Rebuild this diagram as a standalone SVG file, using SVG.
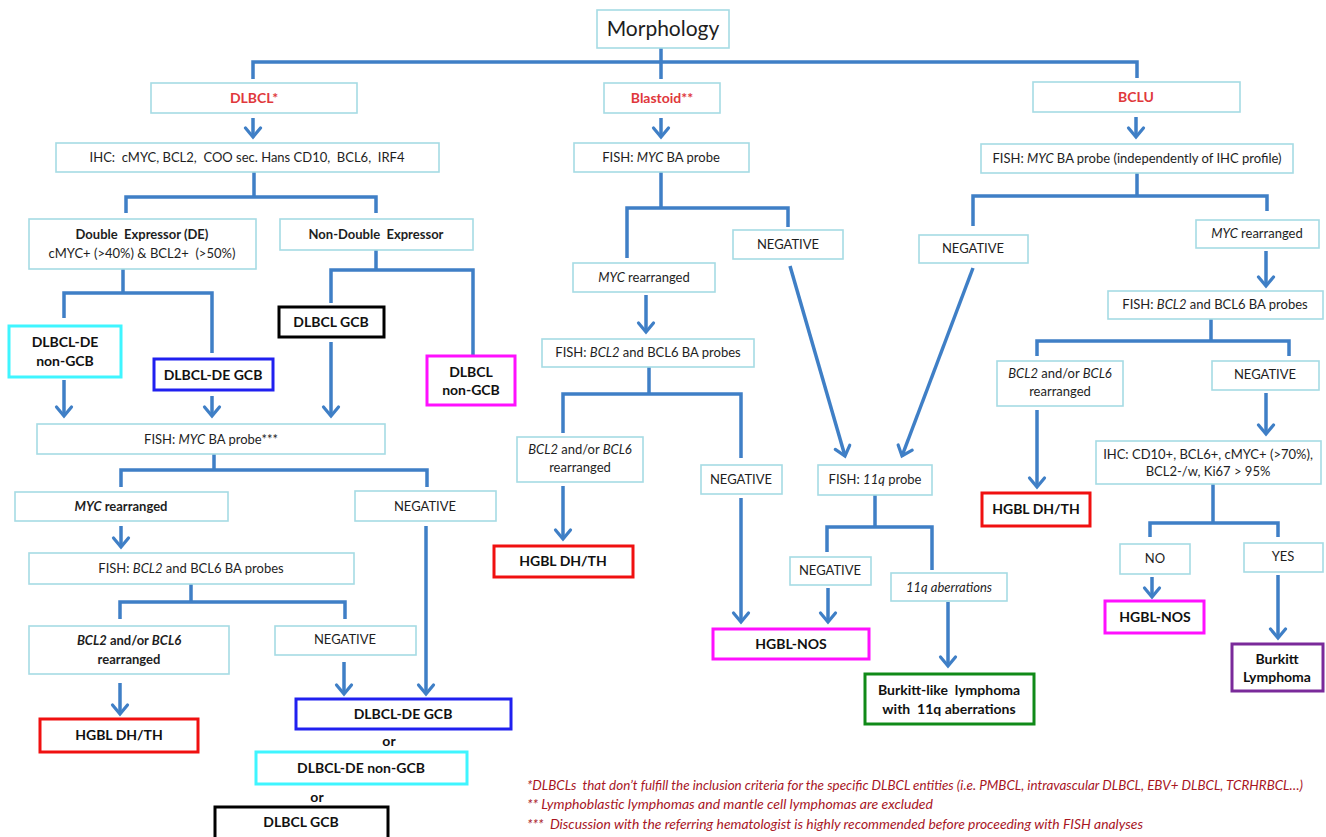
<svg xmlns="http://www.w3.org/2000/svg" width="1326" height="837" viewBox="0 0 1326 837">
<style>
.box{fill:#fff;stroke:#a6dbe4;stroke-width:1.6}
.t{font-family:Lato,"Liberation Sans",sans-serif;font-size:13px;fill:#1e1e1e;text-anchor:middle}
.b{font-weight:bold}
.i{font-style:italic}
.red{fill:#e0383c;font-weight:bold;font-size:14px}
.lf{fill:#fff;stroke-width:3}
.lt{font-family:Lato,"Liberation Sans",sans-serif;font-size:14px;font-weight:bold;fill:#111;text-anchor:middle}
.c{fill:none;stroke:#3f7fc6;stroke-width:3.5;stroke-linejoin:miter}
.a{fill:none;stroke:#3f7fc6;stroke-width:3.5;marker-end:url(#ah)}
.fn{font-family:Lato,"Liberation Sans",sans-serif;font-size:12.5px;font-style:italic;fill:#a8161f}
.pre{white-space:pre}
</style>
<defs>
<marker id="ah" markerUnits="userSpaceOnUse" markerWidth="24" markerHeight="24" viewBox="-12 -12 24 24" refX="0" refY="0" orient="auto" overflow="visible">
<path d="M-9,-7.5 L0,0 L-9,7.5" fill="none" stroke="#3f7fc6" stroke-width="3.2" stroke-linecap="round" stroke-linejoin="miter"/>
</marker>
</defs>
<rect width="1326" height="837" fill="#fff"/>

<g id="connectors">
<path class="c" d="M661,48 V79 M253,79 V62 H1137 V78"/>
<path class="a" d="M253,118 V137"/>
<path class="a" d="M661,118 V137"/>
<path class="a" d="M1136,117 V137"/>
<path class="c" d="M254,172 V197 M126,213 V197 H376 V213"/>
<path class="c" d="M123,269 V293 M64,318 V293 H212 V353"/>
<path class="c" d="M376,250 V270 M331,303 V270 H473 V355"/>
<path class="a" d="M64,380 V416"/>
<path class="a" d="M212,396 V416"/>
<path class="a" d="M331,342 V416"/>
<path class="c" d="M214,454 V470 M121,487 V470 H427 V487"/>
<path class="a" d="M121,526 V547"/>
<path class="c" d="M191,584 V602 M120,619 V602 H345 V619"/>
<path class="a" d="M120,683 V714"/>
<path class="a" d="M344,662 V694"/>
<path class="a" d="M426,526 V694"/>
<path class="c" d="M661,172 V208 M627,258 V208 H788 V227"/>
<path class="a" d="M646,295 V332"/>
<path class="c" d="M649,367 V394 M563,433 V394 H741 V458"/>
<path class="a" d="M563,486 V539"/>
<path class="a" d="M741,498 V622"/>
<path class="a" d="M790,266 L845,456"/>
<path class="a" d="M973,268 L902,456"/>
<path class="c" d="M875,495 V527 M827,552 V527 H932 V570"/>
<path class="a" d="M828,588 V622"/>
<path class="a" d="M948,602 V666"/>
<path class="c" d="M1137,173 V196 M973,226 V196 H1267 V211"/>
<path class="a" d="M1266,251 V286"/>
<path class="c" d="M1211,319 V341 M1037,356 V341 H1289 V356"/>
<path class="a" d="M1037,410 V487"/>
<path class="a" d="M1266,393 V434"/>
<path class="c" d="M1213,484 V523 M1150,537 V523 H1278 V537"/>
<path class="a" d="M1152,577 V597"/>
<path class="a" d="M1278,575 V638"/>
</g>

<g id="morphology"><rect class="box" x="597" y="10" width="132" height="38"/><text class="t" x="663" y="36" style="font-size:21px">Morphology</text></g>
<g id="dlbcl"><rect class="box" x="151" y="83" width="206" height="30"/><text class="t red" x="254" y="103">DLBCL*</text></g>
<g id="blastoid"><rect class="box" x="604" y="83" width="116" height="30"/><text class="t red" x="662" y="103">Blastoid**</text></g>
<g id="bclu"><rect class="box" x="1033" y="82" width="207" height="30"/><text class="t red" x="1136" y="102">BCLU</text></g>

<g id="ihc1"><rect class="box" x="56" y="143" width="383" height="29"/><text class="t pre" x="247" y="162">IHC:  cMYC, BCL2,  COO sec. Hans CD10,  BCL6,  IRF4</text></g>
<g id="fish-myc-b"><rect class="box" x="574" y="143" width="175" height="29"/><text class="t" x="661" y="162">FISH: <tspan class="i">MYC</tspan> BA probe</text></g>
<g id="fish-myc-c"><rect class="box" x="981" y="144" width="312" height="29"/><text class="t" x="1137" y="163">FISH: <tspan class="i">MYC</tspan> BA probe (independently of IHC profile)</text></g>

<g id="de"><rect class="box" x="29" y="219" width="227" height="50"/><text class="t b pre" x="142" y="239">Double  Expressor (DE)</text><text class="t pre" x="142" y="258">cMYC+ (&gt;40%) &amp; BCL2+  (&gt;50%)</text></g>
<g id="nde"><rect class="box" x="280" y="219" width="193" height="31"/><text class="t b pre" x="376" y="239">Non-Double  Expressor</text></g>

<g id="de-ngcb"><rect class="lf" stroke="#3ff5ff" x="9" y="326" width="112" height="51"/><text class="lt" x="65" y="347">DLBCL-DE</text><text class="lt" x="65" y="366">non-GCB</text></g>
<g id="de-gcb"><rect class="lf" stroke="#2020f0" x="154" y="359" width="119" height="31"/><text class="lt" x="213" y="380">DLBCL-DE GCB</text></g>
<g id="gcb1"><rect class="lf" stroke="#000" x="279" y="307" width="105" height="30"/><text class="lt" x="331" y="327">DLBCL GCB</text></g>
<g id="ngcb1"><rect class="lf" stroke="#ff10ff" x="427" y="356" width="88" height="49"/><text class="lt" x="471" y="377">DLBCL</text><text class="lt" x="471" y="395">non-GCB</text></g>

<g id="fish3"><rect class="box" x="37" y="424" width="348" height="30"/><text class="t" x="211" y="444">FISH: <tspan class="i">MYC</tspan> BA probe***</text></g>
<g id="myc-r1"><rect class="box" x="15" y="492" width="213" height="29"/><text class="t b" x="121" y="511"><tspan class="i">MYC</tspan> rearranged</text></g>
<g id="neg1"><rect class="box" x="355" y="491" width="141" height="30"/><text class="t" x="425" y="511">NEGATIVE</text></g>
<g id="fish-bcl-1"><rect class="box" x="29" y="553" width="325" height="31"/><text class="t" x="191" y="573">FISH: <tspan class="i">BCL2</tspan> and BCL6 BA probes</text></g>
<g id="bcl2r1"><rect class="box" x="29" y="626" width="200" height="48"/><text class="t b" x="129" y="645"><tspan class="i">BCL2</tspan> and/or <tspan class="i">BCL6</tspan></text><text class="t b" x="129" y="664">rearranged</text></g>
<g id="neg2"><rect class="box" x="275" y="626" width="141" height="29"/><text class="t" x="345" y="644">NEGATIVE</text></g>
<g id="hgbl1"><rect class="lf" stroke="#f01010" x="40" y="719" width="158" height="33"/><text class="lt" x="119" y="740">HGBL DH/TH</text></g>
<g id="de-gcb-2"><rect class="lf" stroke="#2020f0" x="296" y="699" width="215" height="30"/><text class="lt" x="403" y="719">DLBCL-DE GCB</text></g>
<text class="lt" x="389" y="746">or</text>
<g id="de-ngcb-2"><rect class="lf" stroke="#3ff5ff" x="256" y="752" width="211" height="32"/><text class="lt" x="361" y="773">DLBCL-DE non-GCB</text></g>
<text class="lt" x="317" y="802">or</text>
<g id="gcb2"><rect class="lf" stroke="#000" x="215" y="807" width="173" height="32"/><text class="lt" x="301" y="827">DLBCL GCB</text></g>

<g id="neg-b"><rect class="box" x="733" y="230" width="110" height="29"/><text class="t" x="788" y="249">NEGATIVE</text></g>
<g id="myc-r2"><rect class="box" x="573" y="263" width="142" height="29"/><text class="t" x="644" y="282"><tspan class="i">MYC</tspan> rearranged</text></g>
<g id="fish-bcl-2"><rect class="box" x="542" y="339" width="212" height="28"/><text class="t" x="648" y="357">FISH: <tspan class="i">BCL2</tspan> and BCL6 BA probes</text></g>
<g id="bcl2r2"><rect class="box" x="517" y="437" width="126" height="45"/><text class="t" x="580" y="454"><tspan class="i">BCL2</tspan> and/or <tspan class="i">BCL6</tspan></text><text class="t" x="580" y="472">rearranged</text></g>
<g id="neg3"><rect class="box" x="701" y="465" width="81" height="29"/><text class="t" x="741" y="484">NEGATIVE</text></g>
<g id="hgbl2"><rect class="lf" stroke="#f01010" x="494" y="546" width="139" height="31"/><text class="lt" x="563" y="566">HGBL DH/TH</text></g>
<g id="fish-11q"><rect class="box" stroke="#4a7ebb" x="818" y="465" width="114" height="30"/><text class="t" x="875" y="484">FISH: <tspan class="i">11q</tspan> probe</text></g>
<g id="neg4"><rect class="box" x="790" y="557" width="81" height="28"/><text class="t" x="830" y="575">NEGATIVE</text></g>
<g id="ab-11q"><rect class="box" stroke="#a9c8ec" x="891" y="573" width="116" height="28"/><text class="t i" x="949" y="592">11q aberrations</text></g>
<g id="hgbl-nos-1"><rect class="lf" stroke="#ff10ff" x="713" y="629" width="156" height="30"/><text class="lt" x="791" y="649">HGBL-NOS</text></g>
<g id="burkitt-like"><rect class="lf" stroke="#108a18" x="865" y="674" width="169" height="50"/><text class="lt pre" x="949" y="695">Burkitt-like  lymphoma</text><text class="lt pre" x="949" y="714">with  11q aberrations</text></g>

<g id="neg-c"><rect class="box" x="919" y="235" width="109" height="28"/><text class="t" x="973" y="253">NEGATIVE</text></g>
<g id="myc-r3"><rect class="box" x="1196" y="220" width="123" height="28"/><text class="t" x="1257" y="238"><tspan class="i">MYC</tspan> rearranged</text></g>
<g id="fish-bcl-3"><rect class="box" x="1108" y="291" width="215" height="28"/><text class="t" x="1215" y="309">FISH: <tspan class="i">BCL2</tspan> and BCL6 BA probes</text></g>
<g id="bcl2r3"><rect class="box" x="997" y="361" width="126" height="45"/><text class="t" x="1060" y="378"><tspan class="i">BCL2</tspan> and/or <tspan class="i">BCL6</tspan></text><text class="t" x="1060" y="396">rearranged</text></g>
<g id="neg5"><rect class="box" x="1212" y="361" width="107" height="29"/><text class="t" x="1265" y="379">NEGATIVE</text></g>
<g id="hgbl3"><rect class="lf" stroke="#f01010" x="982" y="493" width="108" height="33"/><text class="lt" x="1036" y="514">HGBL DH/TH</text></g>
<g id="ihc2"><rect class="box" x="1096" y="441" width="225" height="43"/><text class="t" x="1208" y="459">IHC: CD10+, BCL6+, cMYC+ (&gt;70%),</text><text class="t" x="1208" y="476">BCL2-/w, Ki67 &gt; 95%</text></g>
<g id="no"><rect class="box" x="1120" y="544" width="70" height="30"/><text class="t" x="1155" y="563">NO</text></g>
<g id="yes"><rect class="box" x="1244" y="543" width="79" height="29"/><text class="t" x="1283" y="561">YES</text></g>
<g id="hgbl-nos-2"><rect class="lf" stroke="#ff10ff" x="1105" y="601" width="99" height="32"/><text class="lt" x="1155" y="622">HGBL-NOS</text></g>
<g id="burkitt"><rect class="lf" stroke="#7a2a9a" x="1232" y="644" width="91" height="47"/><text class="lt" x="1277" y="664">Burkitt</text><text class="lt" x="1277" y="682">Lymphoma</text></g>

<g id="footnotes">
<text class="fn pre" x="527" y="790" textLength="776" lengthAdjust="spacingAndGlyphs">*DLBCLs  that don’t fulfill the inclusion criteria for the specific DLBCL entities (i.e. PMBCL, intravascular DLBCL, EBV+ DLBCL, TCRHRBCL…)</text>
<text class="fn" x="527" y="809" textLength="406" lengthAdjust="spacingAndGlyphs">** Lymphoblastic lymphomas and mantle cell lymphomas are excluded</text>
<text class="fn pre" x="527" y="829" textLength="616" lengthAdjust="spacingAndGlyphs">***  Discussion with the referring hematologist is highly recommended before proceeding with FISH analyses</text>
</g>
</svg>
